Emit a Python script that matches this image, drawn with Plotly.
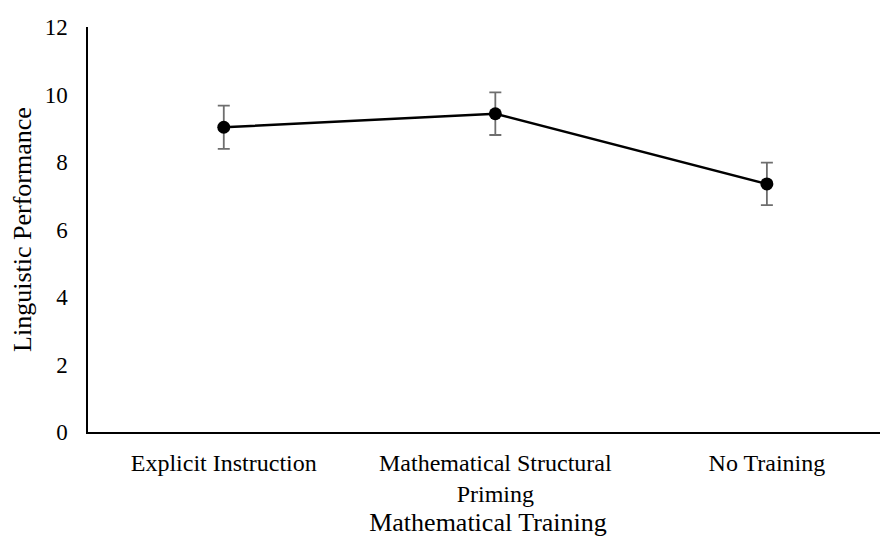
import plotly.graph_objects as go

categories = ["Explicit Instruction", "Mathematical Structural<br>Priming", "No Training"]
performance = [9.03, 9.43, 7.35]
error = [0.64, 0.63, 0.63]
y_ticks = [0, 2, 4, 6, 8, 10, 12]

FONT = "Liberation Serif, Times New Roman, serif"

fig = go.Figure()
fig.add_trace(go.Scatter(
    x=categories,
    y=performance,
    mode="lines+markers",
    line=dict(color="black", width=2.5),
    marker=dict(color="black", size=13),
    error_y=dict(type="data", array=error, visible=True,
                 color="#6e6e6e", thickness=1.8, width=6),
    showlegend=False,
))

# page body has an 8px default margin, so the figure is 8px smaller
fig.update_layout(
    width=880, height=529,
    margin=dict(l=80, r=0, t=19, b=105),
    paper_bgcolor="white", plot_bgcolor="white",
    font=dict(family=FONT, color="black", size=23),
)
fig.update_xaxes(
    type="category",
    range=[-0.5, 2.446],
    automargin=False,
    showline=True, linecolor="black", linewidth=1.5,
    showgrid=False, zeroline=False, ticks="",
    ticklabelstandoff=8,
    tickfont=dict(family=FONT, size=24, color="black"),
    title=dict(text="Mathematical Training", font=dict(family=FONT, size=26, color="black"), standoff=7),
)
fig.update_yaxes(
    range=[0, 12],
    automargin=False,
    tickvals=y_ticks,
    showline=True, linecolor="black", linewidth=1.5,
    showgrid=False, zeroline=False, ticks="",
    ticklabelstandoff=14,
    tickfont=dict(family=FONT, size=23, color="black"),
    title=dict(text="Linguistic Performance", font=dict(family=FONT, size=26, color="black"), standoff=7),
)

fig.write_html("out.html")
